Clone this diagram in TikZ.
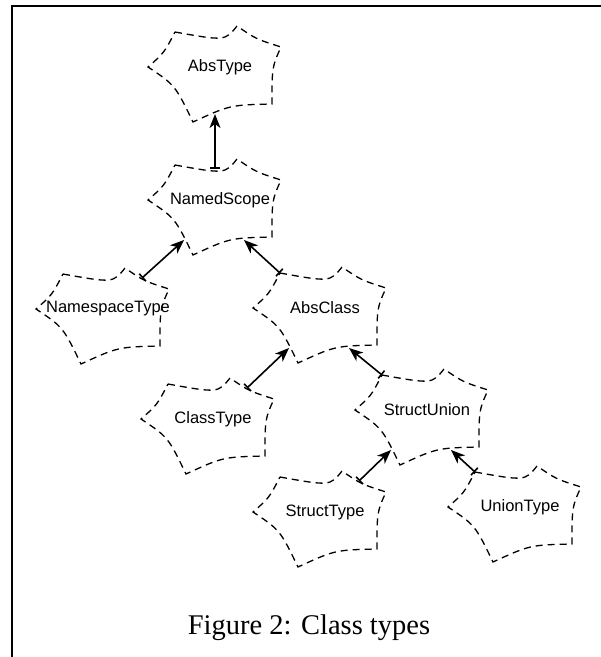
\documentclass[tikz,border=0pt]{standalone}
\usepackage{fontspec}
\setmainfont{Liberation Serif}
\newfontfamily\cloudfont{Liberation Sans}
\usetikzlibrary{arrows.meta}

\tikzset{
  cloudline/.style={dash pattern=on 7pt off 5pt, line width=1.3pt},
  cloudtext/.style={font=\cloudfont\fontsize{16.5}{18}\selectfont, inner sep=0pt},
  inherit/.style={line width=1.6pt, {Bar[width=10pt]}-{Stealth[length=14pt, width=11pt, inset=4pt]}},
  pics/cloud/.style={code={
    \draw[cloudline] (-45,-35) .. controls (5,-26) .. (17,-41)
      .. controls (36,-28) .. (61,-20)
      .. controls (52,0) .. (52,37)
      .. controls (10,38) .. (-27,55)
      .. controls (-45,18) .. (-72,0)
      .. controls (-56,-14) .. (-45,-35) -- cycle;
    \node[cloudtext] (-label) at (0,0) {#1};
    \coordinate (-n) at (-5,-31);
    \coordinate (-nw) at (-45,-35);
    \coordinate (-ne) at (34,-31);
    \coordinate (-s) at (-5,47);
    \coordinate (-sw) at (-36,40);
    \coordinate (-se) at (24,40);
  }}
}

\begin{document}
\begin{tikzpicture}[x=1pt, y=-1pt]
      \useasboundingbox (0,0) rectangle (601,657);
      \draw[line width=2pt] (12,657) -- (12,6) -- (601,6);

      \pic (abstype) at (220,67) {cloud=AbsType};
      \pic (nscope) at (220,200) {cloud=NamedScope};
      \pic (nstype) at (108,309) {cloud=NamespaceType};
      \pic (absclass) at (325,308) {cloud=AbsClass};
      \pic (classtype) at (213,419) {cloud=ClassType};
      \pic (structunion) at (427,410) {cloud=StructUnion};
      \pic (structtype) at (325,512) {cloud=StructType};
      \pic (uniontype) at (520,507) {cloud=UnionType};

      \draw[inherit] (nscope-n) -- (abstype-s);
      \draw[inherit] (nstype-ne) -- (nscope-sw);
      \draw[inherit] (absclass-nw) -- (nscope-se);
      \draw[inherit] (classtype-ne) -- (absclass-sw);
      \draw[inherit] (structunion-nw) -- (absclass-se);
      \draw[inherit] (structtype-ne) -- (structunion-sw);
      \draw[inherit] (uniontype-nw) -- (structunion-se);

      \node[font=\fontsize{28.5}{32}\selectfont, anchor=base, inner sep=0pt] (caption) at (309,634) {Figure 2: Class types};
    \end{tikzpicture}
\end{document}
